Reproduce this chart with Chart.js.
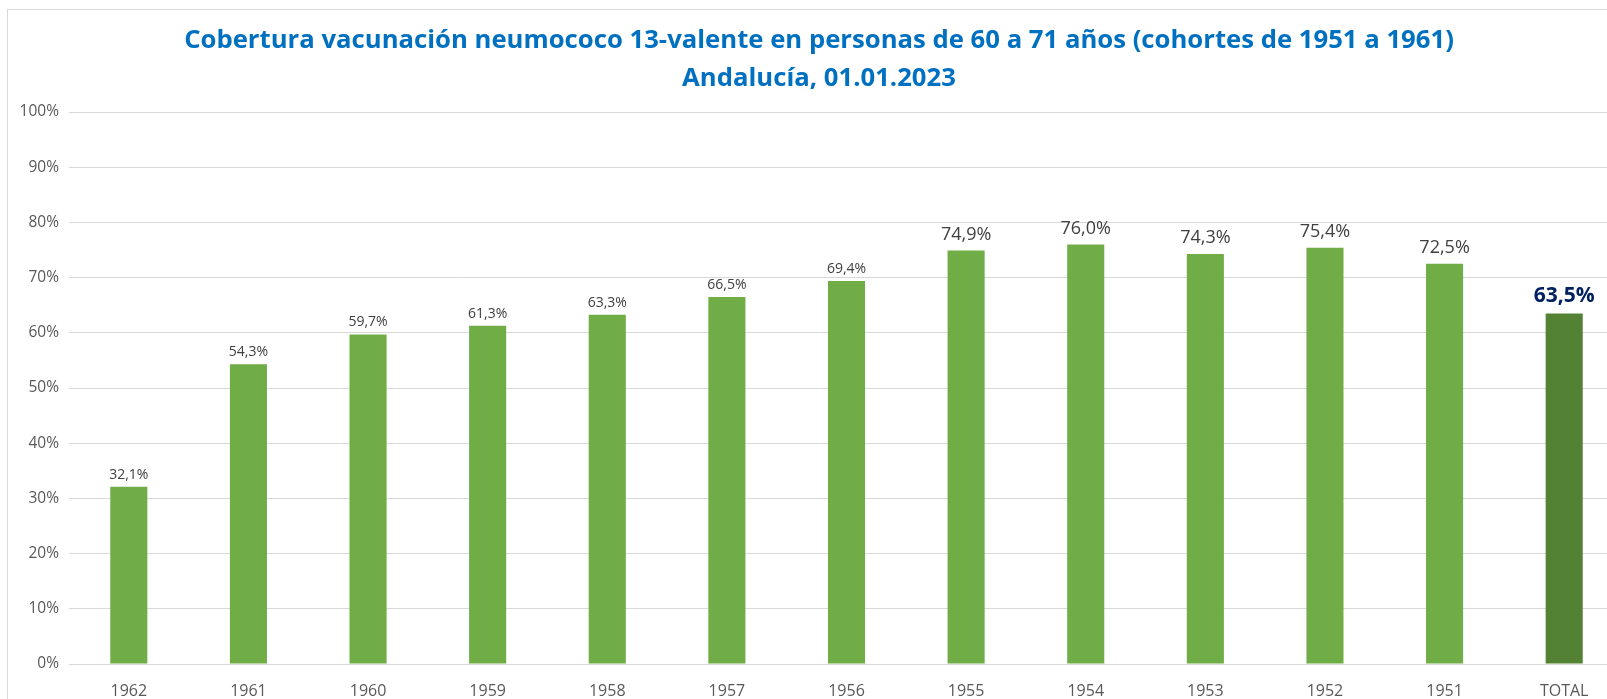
<!DOCTYPE html>
<html>
<head>
<meta charset="utf-8">
<script src="https://cdn.jsdelivr.net/npm/chart.js@4.4.0/dist/chart.umd.min.js"></script>
<style>
  html, body { margin: 0; padding: 0; background: #fff; overflow: hidden; }
  #wrap { position: relative; width: 1607px; height: 699px; overflow: hidden; }
  #marco { position: absolute; left: 7px; top: 9px; width: 1700px; height: 800px; border: 1px solid #d9d9d9; }
  #grafico { position: absolute; left: 0; top: 0; }
</style>
</head>
<body>
<div id="wrap">
  <div id="marco"></div>
  <canvas id="grafico" width="1624" height="699"></canvas>
</div>
<script>
'use strict';

// cohortes (eje x)
const cohortes = ['1962', '1961', '1960', '1959', '1958', '1957', '1956', '1955', '1954', '1953', '1952', '1951', 'TOTAL'];
// cobertura (%)
const cobertura = [32.1, 54.3, 59.7, 61.3, 63.3, 66.5, 69.4, 74.9, 76.0, 74.3, 75.4, 72.5, 63.5];
// marcas del eje y (%)
const marcasY = [0, 10, 20, 30, 40, 50, 60, 70, 80, 90, 100];

const titulo = [
    'Cobertura vacunación neumococo 13-valente en personas de 60 a 71 años (cohortes de 1951 a 1961)',
    'Andalucía, 01.01.2023'
];

const fuente = "'Open Sans', 'Noto Sans', sans-serif";

// etiquetas encima de cada barra
const etiquetas = {
    id: 'etiquetas',
    afterDatasetsDraw(chart) {
        const ctx = chart.ctx;
        const meta = chart.getDatasetMeta(0);
        ctx.save();
        ctx.textAlign = 'center';
        ctx.textBaseline = 'alphabetic';
        meta.data.forEach((bar, i) => {
            const txt = cobertura[i].toFixed(1).replace('.', ',') + '%';
            let gap;
            if (cohortes[i] === 'TOTAL') {
                ctx.font = 'bold 21px ' + fuente;
                ctx.fillStyle = '#002060';
                gap = 12;
            } else if (i >= 7) {
                // a partir de 1955 la etiqueta es más grande
                ctx.font = '18px ' + fuente;
                ctx.fillStyle = '#404040';
                gap = 11;
            } else {
                ctx.font = '14px ' + fuente;
                ctx.fillStyle = '#404040';
                gap = 8;
            }
            ctx.fillText(txt, bar.x, bar.y - gap);
        });
        ctx.restore();
    }
};

const grafico = new Chart(document.getElementById('grafico'), {
    type: 'bar',
    data: {
        labels: cohortes,
        datasets: [{
            label: 'Cobertura',
            data: cobertura,
            backgroundColor: (c) => cohortes[c.index] === 'TOTAL' ? '#548235' : '#70AD47',
            barPercentage: 0.31,
            categoryPercentage: 1.0
        }]
    },
    options: {
        responsive: false,
        animation: false,
        layout: { padding: { left: 14, right: 0, top: 0, bottom: 0 } },
        plugins: {
            legend: { display: false },
            tooltip: { enabled: false },
            title: {
                display: true,
                text: titulo,
                color: '#0070C0',
                font: { family: fuente, size: 25.7, weight: 'bold', lineHeight: 1.48 },
                padding: { top: 22, bottom: 14 }
            }
        },
        scales: {
            x: {
                offset: true,
                grid: { display: false, drawTicks: false },
                border: { display: false },
                ticks: {
                    color: '#595959',
                    font: { family: fuente, size: 16 },
                    padding: 18,
                    maxRotation: 0,
                    autoSkip: false
                },
                afterFit(scale) { scale.height = 35; }
            },
            y: {
                min: 0,
                max: 100,
                afterBuildTicks(scale) { scale.ticks = marcasY.map(v => ({ value: v })); },
                grid: { color: '#D9D9D9', lineWidth: 1, drawTicks: false },
                border: { display: false },
                ticks: {
                    color: '#595959',
                    font: { family: fuente, size: 15.5 },
                    padding: 10,
                    callback: (v) => v + '%'
                },
                afterFit(scale) { scale.width = 55; }
            }
        }
    },
    plugins: [etiquetas]
});
</script>
</body>
</html>
